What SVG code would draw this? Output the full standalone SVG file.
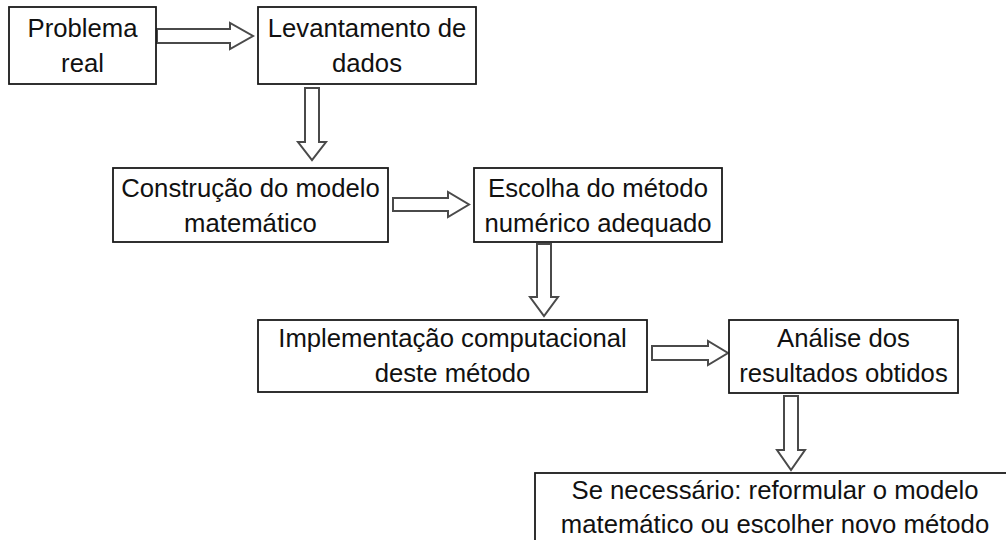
<svg xmlns="http://www.w3.org/2000/svg" width="1006" height="540" viewBox="0 0 1006 540">
<style>
.box{fill:#fff;stroke:#1a1a1a;stroke-width:1.8}
.t{font-family:"Liberation Sans",Arial,sans-serif;font-size:25.7px;fill:#111;text-anchor:middle}
.arr{fill:#fff;stroke:#4a4a4a;stroke-width:2;stroke-linejoin:miter}
</style>
<rect width="1006" height="540" fill="#fff"/>
<g id="connectors">
<polygon class="arr" points="157,29 230,29 230,23 253,36 230,49 230,43 157,43"/>
<polygon class="arr" points="305,88 319,88 319,142 326,142 312,160 298,142 305,142"/>
<polygon class="arr" points="393,198 448,198 448,192 469,204.5 448,217 448,211 393,211"/>
<polygon class="arr" points="537,244 551,244 551,297 558,297 544,316 530,297 537,297"/>
<polygon class="arr" points="652,346 708,346 708,341 728,353 708,365 708,360 652,360"/>
<polygon class="arr" points="784,396 798,396 798,450 805,450 791,470 777,450 784,450"/>
</g>
<g id="n1"><rect class="box" x="9" y="7" width="147" height="77"/><text class="t" x="82.5" y="37">Problema</text><text class="t" x="82.5" y="72">real</text></g>
<g id="n2"><rect class="box" x="258" y="7" width="218" height="77"/><text class="t" x="367" y="37">Levantamento de</text><text class="t" x="367" y="72">dados</text></g>
<g id="n3"><rect class="box" x="113" y="168" width="275" height="74"/><text class="t" x="250.5" y="197">Construção do modelo</text><text class="t" x="250.5" y="232">matemático</text></g>
<g id="n4"><rect class="box" x="474" y="168" width="248" height="74"/><text class="t" x="598" y="197">Escolha do método</text><text class="t" x="598" y="232">numérico adequado</text></g>
<g id="n5"><rect class="box" x="258" y="320" width="389" height="72"/><text class="t" x="452.5" y="347">Implementação computacional</text><text class="t" x="452.5" y="382">deste método</text></g>
<g id="n6"><rect class="box" x="729" y="320" width="229" height="73"/><text class="t" x="843.5" y="347">Análise dos</text><text class="t" x="843.5" y="382">resultados obtidos</text></g>
<g id="n7"><rect class="box" x="535" y="473" width="485" height="80"/><text class="t" x="775" y="499">Se necessário: reformular o modelo</text><text class="t" x="775" y="533">matemático ou escolher novo método</text></g>
</svg>
